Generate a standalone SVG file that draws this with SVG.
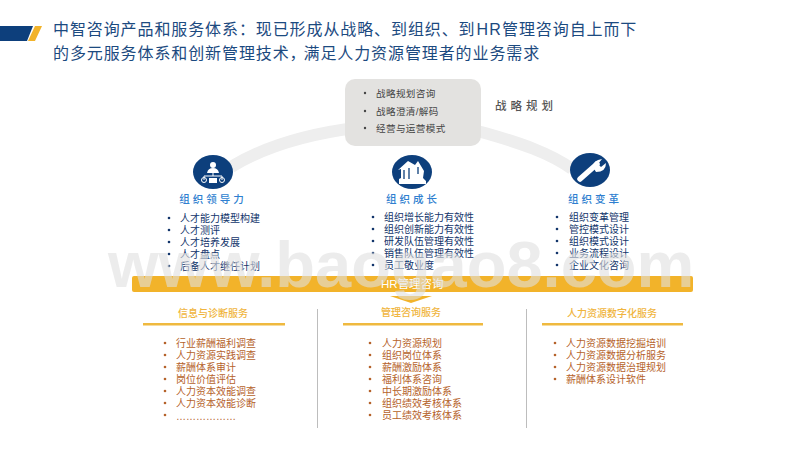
<svg xmlns="http://www.w3.org/2000/svg" width="800" height="450" viewBox="0 0 800 450">
<style>
text{font-family:"Liberation Sans","Noto Sans CJK SC",sans-serif}
.title{font-size:16px;fill:#1c4a80;letter-spacing:.9px}
.box{font-size:9.6px;fill:#444;letter-spacing:.35px}
.head{font-size:10.5px;fill:#2f7fd0;text-anchor:middle;letter-spacing:3px;font-weight:500}
.up{font-size:10px;fill:#12356b}
.low{font-size:10px;fill:#b5622a}
.svc{font-size:10px;fill:#f0b53e;text-anchor:middle;font-weight:500}
.ub{fill:#12356b}.lb{fill:#b5622a}
.rule{fill:#efb93f}
.sep{stroke:#bdbdbd;stroke-width:1;fill:none}
.disc{fill:#0d3f7c}
.ic{fill:#fff}
.icl{stroke:#fff;stroke-width:1;fill:none}
</style>
<g id="logo"><polygon points="0,26 33,26 27,41 0,41" fill="#0d3f7c"/><polygon points="35,26 42,26 35,41 28,41" fill="#f2b32a"/></g>
<g id="title"><text class="title" x="53" y="35">中智咨询产品和服务体系：现已形成从战略、到组织、到<tspan dx="1" letter-spacing="1.2">HR</tspan><tspan>管理咨询自上而下</tspan></text>
<text class="title" x="53" y="59">的多元服务体系和创新管理技术，<tspan dx="-3">满足人力资源管理者的业务需求</tspan></text></g>
<g id="connectors"><path d="M231 167C300 125 420 115 485 133C520 143 550 153 572 169" fill="none" stroke="#eeeeee" stroke-width="12"/></g>
<g id="strategy"><rect x="345" y="79" width="136" height="67" rx="10" fill="#e3e2e0"/>
<circle cx="365" cy="93" r="1.2" fill="#444"/><circle cx="365" cy="111" r="1.2" fill="#444"/><circle cx="365" cy="128" r="1.2" fill="#444"/>
<text class="box" x="376" y="97">战略规划咨询</text><text class="box" x="376" y="115">战略澄清/解码</text><text class="box" x="376" y="132">经营与运营模式</text>
<text x="495" y="110" font-size="11.5" fill="#555" letter-spacing="4" font-weight="500">战略规划</text></g>
<g id="node-leadership"><ellipse class="disc" cx="213" cy="172" rx="20" ry="17"/>
<circle class="ic" cx="213" cy="165" r="3"/><path class="ic" d="M207 173Q208 168 213 168Q218 168 219 173Z"/>
<path class="icl" d="M213 173V176M204 180V176H222V180" stroke-width=".8"/>
<circle class="icl" cx="204" cy="180" r="2.5"/><circle class="icl" cx="222" cy="180" r="2.5"/><rect class="ic" x="209" y="178" width="8" height="5"/>
<text class="head" x="213" y="203">组织领导力</text>
<g class="ub"><circle cx="169" cy="218" r="1.3"/><circle cx="169" cy="230" r="1.3"/><circle cx="169" cy="242" r="1.3"/><circle cx="169" cy="254" r="1.3"/><circle cx="169" cy="266" r="1.3"/></g>
<text class="up" x="180" y="222">人才能力模型构建</text><text class="up" x="180" y="234">人才测评</text><text class="up" x="180" y="246">人才培养发展</text><text class="up" x="180" y="258">人才盘点</text><text class="up" x="180" y="270">后备人才继任计划</text></g>
<g id="node-growth"><ellipse class="disc" cx="412" cy="172" rx="20" ry="17"/>
<path class="ic" d="M399 184V179L401 178V169L398 170L408 161L415 165L418 161L424 171L423 178L426 181V184Z"/>
<path d="M404 170V179M409 168V179M418 167V174" stroke="#0d3f7c" stroke-width="1.3"/>
<text class="head" x="413" y="203">组织成长</text>
<g class="ub"><circle cx="373" cy="217" r="1.3"/><circle cx="373" cy="229" r="1.3"/><circle cx="373" cy="241" r="1.3"/><circle cx="373" cy="253" r="1.3"/><circle cx="373" cy="265" r="1.3"/></g>
<text class="up" x="384" y="221">组织增长能力有效性</text><text class="up" x="384" y="233">组织创新能力有效性</text><text class="up" x="384" y="245">研发队伍管理有效性</text><text class="up" x="384" y="257">销售队伍管理有效性</text><text class="up" x="384" y="269">员工敬业度</text></g>
<g id="node-change"><ellipse class="disc" cx="590" cy="170" rx="20" ry="17"/>
<path d="M580 179L597 164" stroke="#fff" stroke-width="5.500" stroke-linecap="round"/>
<path class="ic" d="M593 167Q593 160 602 159L598 164L601 167L606 163Q606 172 596 172Z"/>
<text class="head" x="595" y="203">组织变革</text>
<g class="ub"><circle cx="557" cy="217" r="1.3"/><circle cx="557" cy="229" r="1.3"/><circle cx="557" cy="241" r="1.3"/><circle cx="557" cy="253" r="1.3"/><circle cx="557" cy="265" r="1.3"/></g>
<text class="up" x="569" y="221">组织变革管理</text><text class="up" x="569" y="233">管控模式设计</text><text class="up" x="569" y="245">组织模式设计</text><text class="up" x="569" y="257">业务流程设计</text><text class="up" x="569" y="269">企业文化咨询</text></g>
<g id="hr-bar"><rect x="132" y="276" width="561" height="16" rx="2" fill="#f2b32a"/><polygon points="390,296 432,296 411,303" fill="#f2b32a"/>
<text x="381" y="288" font-size="11.5" fill="#fff">HR管理咨询</text></g>
<g id="separators"><path class="sep" d="M317.500 309V428M526.500 309V428"/></g>
<g id="svc-diagnosis"><text class="svc" x="213" y="317">信息与诊断服务</text><rect class="rule" x="143" y="323" width="142" height="2.500"/>
<g class="lb"><circle cx="165" cy="343" r="1.3"/><circle cx="165" cy="355" r="1.3"/><circle cx="165" cy="367" r="1.3"/><circle cx="165" cy="379" r="1.3"/><circle cx="165" cy="391" r="1.3"/><circle cx="165" cy="403" r="1.3"/><circle cx="165" cy="415" r="1.3"/></g>
<text class="low" x="176" y="347">行业薪酬福利调查</text><text class="low" x="176" y="359">人力资源实践调查</text><text class="low" x="176" y="371">薪酬体系审计</text><text class="low" x="176" y="383">岗位价值评估</text><text class="low" x="176" y="395">人力资本效能调查</text><text class="low" x="176" y="407">人力资本效能诊断</text><text class="low" x="176" y="420">………………</text></g>
<g id="svc-management"><text class="svc" x="411" y="316">管理咨询服务</text><rect class="rule" x="343" y="323" width="140" height="2.500"/>
<g class="lb"><circle cx="370" cy="343" r="1.3"/><circle cx="370" cy="355" r="1.3"/><circle cx="370" cy="367" r="1.3"/><circle cx="370" cy="379" r="1.3"/><circle cx="370" cy="391" r="1.3"/><circle cx="370" cy="403" r="1.3"/><circle cx="370" cy="415" r="1.3"/></g>
<text class="low" x="382" y="347">人力资源规划</text><text class="low" x="382" y="359">组织岗位体系</text><text class="low" x="382" y="371">薪酬激励体系</text><text class="low" x="382" y="383">福利体系咨询</text><text class="low" x="382" y="395">中长期激励体系</text><text class="low" x="382" y="407">组织绩效考核体系</text><text class="low" x="382" y="419">员工绩效考核体系</text></g>
<g id="svc-digital"><text class="svc" x="612" y="317">人力资源数字化服务</text><rect class="rule" x="542" y="323" width="141" height="2.500"/>
<g class="lb"><circle cx="555" cy="343" r="1.3"/><circle cx="555" cy="355" r="1.3"/><circle cx="555" cy="367" r="1.3"/><circle cx="555" cy="379" r="1.3"/></g>
<text class="low" x="566" y="347">人力资源数据挖掘培训</text><text class="low" x="566" y="359">人力资源数据分析服务</text><text class="low" x="566" y="371">人力资源数据治理规划</text><text class="low" x="566" y="383">薪酬体系设计软件</text></g>
<text x="108" y="287" font-size="65" font-weight="bold" fill="#dfdfdf" fill-opacity=".6">www.baogao8.com</text>
</svg>
